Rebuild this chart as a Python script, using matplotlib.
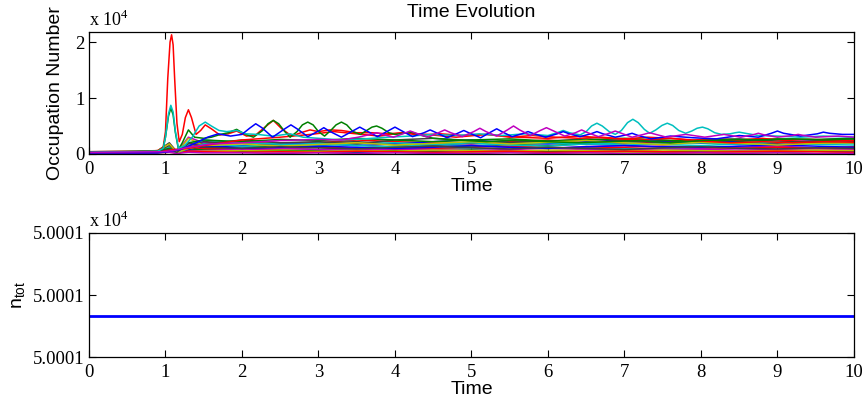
import matplotlib
matplotlib.use('Agg')
import matplotlib.pyplot as plt

plt.rcParams['mathtext.fontset'] = 'custom'
plt.rcParams['mathtext.rm'] = 'Liberation Serif'
plt.rcParams['mathtext.sf'] = 'Liberation Sans'

# MATLAB style line colours
C_B = (0, 0, 1)
C_G = (0, 0.5, 0)
C_R = (1, 0, 0)
C_C = (0, 0.75, 0.75)
C_M = (0.75, 0, 0.75)
C_Y = (0.75, 0.75, 0)
C_K = (0.25, 0.25, 0.25)

# occupation numbers (x 10^4) of the modes that stand out
red_t = [0, 0.6, 0.9, 0.97, 1.0, 1.03, 1.06, 1.08, 1.1, 1.12, 1.15, 1.18, 1.22, 1.26, 1.3, 1.34, 1.4,
         1.46, 1.52, 1.6, 1.71, 1.82, 1.93, 2.06, 2.18, 2.3, 2.41, 2.52, 2.65, 2.77, 2.89, 3.0, 3.15,
         3.3, 3.5, 3.7, 3.9, 4.1, 4.3, 4.6, 4.9, 5.2, 5.5, 5.8, 6.1, 6.4, 6.7, 7.0, 7.3, 7.6, 7.9,
         8.2, 8.5, 8.8, 9.1, 9.4, 9.7, 10.0]
red_n = [0.04, 0.05, 0.06, 0.12, 0.4, 1.35, 2.0, 2.13, 1.95, 1.35, 0.55, 0.22, 0.35, 0.65, 0.79, 0.65, 0.35,
         0.42, 0.52, 0.45, 0.34, 0.36, 0.41, 0.32, 0.34, 0.48, 0.6, 0.45, 0.32, 0.38, 0.43, 0.4, 0.43,
         0.42, 0.38, 0.38, 0.36, 0.38, 0.34, 0.36, 0.33, 0.35, 0.3, 0.33, 0.3, 0.28, 0.3, 0.27, 0.3, 0.28, 0.25,
         0.27, 0.25, 0.28, 0.24, 0.26, 0.25, 0.24]

green_t = [0, 0.9, 0.97, 1.0, 1.04, 1.07, 1.1, 1.13, 1.17, 1.22, 1.3, 1.38, 1.5, 1.6, 1.72, 1.82, 1.93,
           2.03, 2.15, 2.27, 2.34, 2.41, 2.48, 2.56, 2.63, 2.72, 2.79, 2.86, 2.93, 3.0, 3.08, 3.16, 3.23,
           3.3, 3.37, 3.45, 3.55, 3.63, 3.7, 3.76, 3.83, 3.92, 4.0, 4.12, 4.22, 4.35, 4.5, 4.8, 5.2, 5.6,
           6.0, 6.4, 6.8, 7.2, 7.6, 8.0, 8.4, 8.8, 9.2, 9.6, 10.0]
green_n = [0.04, 0.05, 0.1, 0.3, 0.68, 0.82, 0.7, 0.38, 0.08, 0.2, 0.43, 0.3, 0.28, 0.3, 0.35, 0.38, 0.44,
           0.36, 0.3, 0.42, 0.54, 0.6, 0.54, 0.4, 0.3, 0.4, 0.52, 0.57, 0.52, 0.4, 0.32, 0.42, 0.52,
           0.57, 0.52, 0.4, 0.35, 0.42, 0.48, 0.5, 0.46, 0.38, 0.35, 0.37, 0.39, 0.33, 0.28, 0.25, 0.22, 0.25,
           0.22, 0.2, 0.22, 0.24, 0.2, 0.24, 0.26, 0.25, 0.27, 0.25, 0.27]

cyan_t = [0, 0.9, 0.97, 1.0, 1.04, 1.07, 1.1, 1.13, 1.17, 1.25, 1.35, 1.44, 1.52, 1.6, 1.7, 1.8, 1.93,
          2.05, 2.2, 2.4, 2.63, 2.8, 3.0, 3.3, 3.6, 3.9, 4.2, 4.5, 4.8, 5.1, 5.4, 5.7, 6.0, 6.12, 6.2,
          6.28, 6.42, 6.5, 6.57, 6.64, 6.71, 6.8, 6.88, 6.96, 7.04, 7.11, 7.18, 7.26, 7.33, 7.41, 7.49,
          7.56, 7.63, 7.71, 7.8, 7.88, 7.95, 8.02, 8.09, 8.18, 8.27, 8.38, 8.45, 8.5, 8.58, 8.75, 9.0,
          9.3, 9.6, 10.0]
cyan_n = [0.03, 0.05, 0.1, 0.3, 0.72, 0.87, 0.75, 0.4, 0.1, 0.15, 0.3, 0.5, 0.57, 0.5, 0.42, 0.4, 0.42,
          0.36, 0.35, 0.32, 0.36, 0.3, 0.28, 0.25, 0.27, 0.3, 0.32, 0.35, 0.33, 0.36, 0.33, 0.36, 0.33, 0.38, 0.42,
          0.38, 0.34, 0.4, 0.5, 0.55, 0.5, 0.4, 0.35, 0.42, 0.56, 0.62, 0.56, 0.44, 0.37, 0.43, 0.51,
          0.55, 0.51, 0.42, 0.37, 0.41, 0.46, 0.48, 0.45, 0.38, 0.35, 0.36, 0.38, 0.39, 0.37, 0.33, 0.32,
          0.3, 0.32, 0.3]

blue_t = [0, 0.9, 1.07, 1.2, 1.4, 1.55, 1.69, 1.85, 2.0, 2.1, 2.18, 2.26, 2.4, 2.56, 2.64, 2.72, 2.86,
          3.0, 3.07, 3.14, 3.3, 3.46, 3.54, 3.62, 3.77, 3.92, 4.0, 4.08, 4.23, 4.38, 4.46, 4.54, 4.68,
          4.82, 4.9, 4.98, 5.12, 5.25, 5.33, 5.41, 5.53, 5.66, 5.74, 5.82, 5.97, 6.12, 6.2, 6.28, 6.42,
          6.56, 6.64, 6.72, 6.88, 7.02, 7.1, 7.18, 7.35, 7.6, 7.9, 8.2, 8.5, 8.75, 8.92, 9.0, 9.08, 9.3,
          9.52, 9.6, 9.68, 9.85, 10.0]
blue_n = [0.02, 0.02, 0.05, 0.08, 0.2, 0.3, 0.36, 0.32, 0.35, 0.46, 0.54, 0.47, 0.3, 0.45, 0.52, 0.45, 0.31,
          0.41, 0.47, 0.41, 0.3, 0.42, 0.48, 0.42, 0.31, 0.42, 0.48, 0.42, 0.31, 0.38, 0.43, 0.38, 0.29,
          0.37, 0.42, 0.37, 0.29, 0.39, 0.45, 0.39, 0.31, 0.36, 0.4, 0.36, 0.3, 0.36, 0.4, 0.36, 0.31,
          0.36, 0.4, 0.36, 0.3, 0.34, 0.37, 0.33, 0.27, 0.32, 0.29, 0.27, 0.33, 0.3, 0.37, 0.41, 0.37, 0.32,
          0.36, 0.39, 0.37, 0.35, 0.35]

magenta_t = [0, 0.95, 1.1, 1.3, 1.6, 2.0, 2.5, 3.0, 3.3, 3.52, 3.68, 3.76, 3.84, 3.98, 4.12, 4.2, 4.28,
             4.43, 4.57, 4.65, 4.73, 4.88, 5.03, 5.11, 5.19, 5.33, 5.47, 5.55, 5.63, 5.77, 5.9, 5.98,
             6.06, 6.22, 6.36, 6.44, 6.52, 6.66, 6.8, 6.88, 6.96, 7.1, 7.25, 7.33, 7.41, 7.55, 7.8,
             8.05, 8.3, 8.52, 8.67, 8.75, 8.83, 9.0, 9.2, 9.27, 9.35, 9.5, 9.8, 10.0]
magenta_n = [0.03, 0.04, 0.06, 0.12, 0.18, 0.2, 0.24, 0.26, 0.25, 0.3, 0.35, 0.38, 0.35, 0.3, 0.37, 0.41, 0.37,
             0.3, 0.38, 0.43, 0.38, 0.31, 0.4, 0.46, 0.4, 0.32, 0.43, 0.5, 0.43, 0.33, 0.42, 0.47,
             0.42, 0.32, 0.38, 0.43, 0.38, 0.31, 0.37, 0.41, 0.37, 0.3, 0.35, 0.38, 0.35, 0.3, 0.35,
             0.3, 0.35, 0.3, 0.34, 0.37, 0.34, 0.3, 0.33, 0.35, 0.33, 0.3, 0.32, 0.3]

red2_t = [0, 0.95, 1.1, 1.3, 1.5, 2.0, 2.5, 2.9, 3.2, 3.5, 3.8, 4.1, 4.4, 4.8, 5.2, 5.6, 6.0, 6.4, 6.8,
          7.2, 7.6, 8.0, 8.4, 8.8, 9.2, 9.6, 10.0]
red2_n = [0.03, 0.04, 0.08, 0.1, 0.15, 0.25, 0.3, 0.35, 0.4, 0.36, 0.32, 0.38, 0.35, 0.3, 0.35, 0.3, 0.28,
          0.32, 0.28, 0.25, 0.28, 0.23, 0.2, 0.22, 0.2, 0.22, 0.21]

# the crowd of weakly occupied modes
t_band = [0, 0.5, 0.9, 1.05, 1.15, 1.3, 1.5, 2.0, 2.5, 3.0, 3.5, 4.0, 4.5, 5.0, 5.5, 6.0, 6.5,
          7.0, 7.5, 8.0, 8.5, 9.0, 9.5, 10.0]
band_01 = [0.03, 0.03, 0.04, 0.06, 0.02, 0.05, 0.08, 0.06, 0.04, 0.05, 0.03, 0.05, 0.04, 0.02, 0.04, 0.03, 0.05, 0.04, 0.03, 0.05, 0.04, 0.03, 0.05, 0.04]
band_02 = [0.02, 0.02, 0.03, 0.05, 0.02, 0.06, 0.1, 0.12, 0.15, 0.12, 0.1, 0.14, 0.16, 0.13, 0.17, 0.15, 0.18, 0.2, 0.22, 0.24, 0.22, 0.2, 0.23, 0.25]
band_03 = [0.03, 0.03, 0.05, 0.1, 0.03, 0.15, 0.2, 0.22, 0.18, 0.2, 0.25, 0.22, 0.2, 0.18, 0.22, 0.25, 0.2, 0.18, 0.22, 0.2, 0.18, 0.2, 0.22, 0.2]
band_04 = [0.03, 0.03, 0.04, 0.12, 0.03, 0.1, 0.15, 0.12, 0.1, 0.08, 0.1, 0.12, 0.1, 0.09, 0.11, 0.1, 0.12, 0.1, 0.09, 0.1, 0.12, 0.11, 0.1, 0.12]
band_05 = [0.03, 0.03, 0.05, 0.08, 0.04, 0.3, 0.2, 0.15, 0.18, 0.2, 0.16, 0.12, 0.14, 0.16, 0.12, 0.1, 0.13, 0.15, 0.12, 0.1, 0.12, 0.14, 0.11, 0.1]
band_06 = [0.02, 0.02, 0.03, 0.05, 0.02, 0.28, 0.15, 0.1, 0.08, 0.06, 0.05, 0.04, 0.03, 0.02, 0.03, 0.02, 0.02, 0.03, 0.02, 0.01, 0.02, 0.02, 0.01, 0.02]
band_07 = [0.03, 0.03, 0.06, 0.2, 0.04, 0.18, 0.22, 0.2, 0.16, 0.2, 0.22, 0.18, 0.15, 0.2, 0.24, 0.2, 0.17, 0.21, 0.24, 0.2, 0.17, 0.2, 0.22, 0.19]
band_08 = [0.02, 0.02, 0.03, 0.04, 0.02, 0.08, 0.12, 0.15, 0.2, 0.18, 0.15, 0.18, 0.22, 0.25, 0.2, 0.18, 0.22, 0.25, 0.22, 0.2, 0.24, 0.26, 0.25, 0.28]
band_09 = [0.03, 0.03, 0.04, 0.06, 0.03, 0.1, 0.08, 0.05, 0.06, 0.05, 0.04, 0.06, 0.05, 0.07, 0.05, 0.04, 0.06, 0.05, 0.04, 0.06, 0.05, 0.04, 0.05, 0.06]
band_10 = [0.02, 0.02, 0.03, 0.05, 0.02, 0.12, 0.1, 0.08, 0.1, 0.12, 0.1, 0.08, 0.1, 0.12, 0.14, 0.12, 0.1, 0.12, 0.14, 0.12, 0.1, 0.12, 0.1, 0.13]
band_11 = [0.02, 0.02, 0.03, 0.05, 0.02, 0.15, 0.25, 0.2, 0.18, 0.15, 0.18, 0.2, 0.17, 0.15, 0.18, 0.2, 0.18, 0.16, 0.18, 0.2, 0.18, 0.16, 0.18, 0.2]
band_12 = [0.02, 0.02, 0.03, 0.04, 0.02, 0.05, 0.06, 0.08, 0.1, 0.08, 0.07, 0.09, 0.08, 0.06, 0.08, 0.1, 0.08, 0.07, 0.09, 0.08, 0.07, 0.08, 0.09, 0.08]
band_13 = [0.02, 0.02, 0.02, 0.03, 0.02, 0.04, 0.05, 0.06, 0.05, 0.04, 0.06, 0.05, 0.07, 0.06, 0.05, 0.07, 0.06, 0.05, 0.07, 0.06, 0.05, 0.06, 0.07, 0.06]
band_14 = [0.03, 0.03, 0.05, 0.15, 0.03, 0.12, 0.18, 0.25, 0.2, 0.22, 0.18, 0.25, 0.28, 0.24, 0.2, 0.23, 0.27, 0.24, 0.2, 0.25, 0.27, 0.23, 0.2, 0.22]
band_15 = [0.03, 0.03, 0.04, 0.07, 0.03, 0.1, 0.14, 0.1, 0.12, 0.14, 0.12, 0.1, 0.12, 0.15, 0.12, 0.1, 0.13, 0.15, 0.13, 0.12, 0.14, 0.16, 0.14, 0.12]
band_16 = [0.04, 0.04, 0.05, 0.1, 0.04, 0.2, 0.25, 0.22, 0.26, 0.24, 0.28, 0.25, 0.22, 0.25, 0.27, 0.23, 0.25, 0.28, 0.25, 0.22, 0.25, 0.27, 0.26, 0.28]
band_17 = [0.02, 0.02, 0.03, 0.04, 0.02, 0.05, 0.04, 0.03, 0.04, 0.03, 0.05, 0.04, 0.03, 0.04, 0.05, 0.03, 0.04, 0.05, 0.04, 0.03, 0.04, 0.05, 0.04, 0.03]
band_18 = [0.02, 0.02, 0.03, 0.05, 0.02, 0.1, 0.18, 0.14, 0.16, 0.19, 0.15, 0.13, 0.17, 0.2, 0.16, 0.14, 0.18, 0.2, 0.17, 0.15, 0.18, 0.21, 0.17, 0.16]
band_19 = [0.01, 0.01, 0.02, 0.03, 0.01, 0.03, 0.02, 0.02, 0.01, 0.02, 0.01, 0.02, 0.01, 0.01, 0.02, 0.01, 0.02, 0.01, 0.01, 0.02, 0.01, 0.02, 0.01, 0.01]
band_20 = [0.03, 0.03, 0.06, 0.18, 0.03, 0.1, 0.15, 0.18, 0.14, 0.17, 0.2, 0.16, 0.19, 0.22, 0.18, 0.21, 0.24, 0.2, 0.17, 0.21, 0.19, 0.16, 0.19, 0.2]
band_21 = [0.03, 0.03, 0.04, 0.08, 0.03, 0.2, 0.12, 0.1, 0.13, 0.11, 0.09, 0.12, 0.14, 0.11, 0.09, 0.12, 0.1, 0.08, 0.11, 0.13, 0.1, 0.09, 0.11, 0.1]

band_series = [band_01, band_02, band_03, band_04, band_05, band_06, band_07, band_08, band_09, band_10,
               band_11, band_12, band_13, band_14, band_15, band_16, band_17, band_18, band_19, band_20,
               band_21]
band_colors = [C_B, C_G, C_R, C_C, C_M, C_Y, C_K]

# total particle number (x 10^4)
t_tot = [0, 10]
n_tot = [5.0000866, 5.0000866]

fig = plt.figure(figsize=(8.68, 4.05), dpi=100)
ax1 = fig.add_axes([0.1025, 0.6198, 0.8813, 0.3012])
ax2 = fig.add_axes([0.1025, 0.1185, 0.8813, 0.3062])

for i, s in enumerate(band_series):
    ax1.plot(t_band, s, color=band_colors[i % 7], lw=1.1)

ax1.plot(red2_t, red2_n, color=C_R, lw=1.1)
ax1.plot(red_t, red_n, color=C_R, lw=1.1)
ax1.plot(green_t, green_n, color=C_G, lw=1.1)
ax1.plot(cyan_t, cyan_n, color=C_C, lw=1.1)
ax1.plot(blue_t, blue_n, color=C_B, lw=1.1)
ax1.plot(magenta_t, magenta_n, color=C_M, lw=1.1)

ax2.plot(t_tot, n_tot, color=C_B, lw=2.0)

serif = 'Liberation Serif'
sans = 'Liberation Sans'

for ax in (ax1, ax2):
    ax.set_xlim(0, 10)
    ax.set_xticks(range(11))
    ax.tick_params(direction='in', length=5, width=0.8, top=True, right=True,
                   labelsize=13.5, pad=5)
    ax.tick_params(axis='y', pad=3)
    for lab in ax.get_xticklabels() + ax.get_yticklabels():
        lab.set_fontfamily(serif)
    for sp in ax.spines.values():
        sp.set_linewidth(0.9)
    ax.set_xlabel('Time', fontsize=14, fontfamily=sans, labelpad=0)
    ax.text(0.0, 1.02, r'x 10$^{\mathrm{4}}$', transform=ax.transAxes, fontsize=13,
            fontfamily=serif, ha='left', va='bottom')

ax1.set_ylim(0, 2.18)
ax1.set_yticks([0, 1, 2])
ax1.set_yticklabels(['0', '1', '2'], fontfamily=serif)
ax1.set_ylabel('Occupation Number', fontsize=14, fontfamily=sans, labelpad=8)
ax1.set_title('Time Evolution', fontsize=14, fontfamily=sans, pad=11)

ax2.set_ylim(5.00008, 5.0001)
ax2.set_yticks([5.00008, 5.00009, 5.0001])
ax2.set_yticklabels(['5.0001', '5.0001', '5.0001'], fontfamily=serif)
ax2.set_ylabel(r'n$_{\mathsf{tot}}$', fontsize=14, fontfamily=sans, labelpad=4)

fig.savefig('out.png', dpi=100)
